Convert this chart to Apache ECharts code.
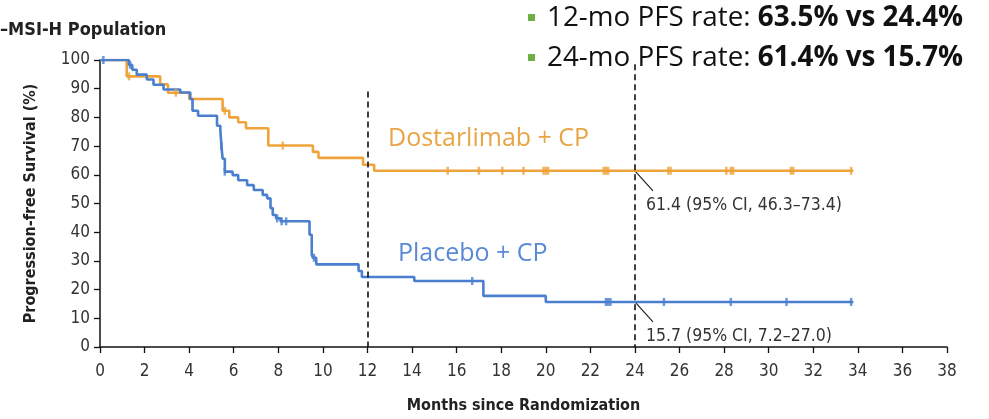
<!DOCTYPE html>
<html>
<head>
<meta charset="utf-8">
<script src="https://cdn.jsdelivr.net/npm/echarts@6/dist/echarts.min.js"></script>
<style>
  html, body { margin: 0; padding: 0; background: #ffffff; overflow: hidden; width: 989px; height: 419px; }
  #chart { width: 989px; height: 419px; overflow: hidden; }
</style>
</head>
<body>
<div id="chart"></div>
<script>
// Kaplan-Meier progression-free survival, dMMR/MSI-H population
const xTicks = [0, 2, 4, 6, 8, 10, 12, 14, 16, 18, 20, 22, 24, 26, 28, 30, 32, 34, 36, 38];
const yTicks = [0, 10, 20, 30, 40, 50, 60, 70, 80, 90, 100];

// Dostarlimab + CP: event times (months) and survival after each step (%)
const dostarTimes = [0, 1.2, 2.7, 3.05, 4.0, 5.5, 5.8, 6.2, 6.55, 7.55, 9.55, 9.8, 11.8, 12.3, 33.8];
const dostarSurv  = [100, 94.3, 91.5, 88.6, 86.4, 82.3, 80.0, 78.3, 76.2, 70.2, 68.0, 65.9, 63.5, 61.4, 61.4];
const dostarCensor = [1.3, 3.4, 5.6, 8.2, 15.6, 17.0, 18.05, 19.0, 19.9, 20.0, 20.1, 22.6, 22.7, 22.8, 25.5, 25.6, 28.1, 28.3, 28.4, 31.0, 31.1, 33.7];

// Placebo + CP
const placeboTimes = [0, 1.3, 1.45, 1.65, 2.1, 2.4, 2.85, 3.6, 4.05, 4.15, 4.4, 5.25, 5.4, 5.45, 5.5, 5.6, 5.95, 6.2, 6.6, 6.9, 7.3, 7.5, 7.65, 7.75, 7.9, 8.1, 9.4, 9.5, 9.55, 9.7, 11.6, 11.75, 14.1, 17.2, 20.0, 33.8];
const placeboSurv  = [100, 98.3, 96.6, 94.9, 93.2, 91.4, 89.7, 88.7, 86.4, 82.3, 80.6, 77.1, 75.4, 70.0, 65.6, 61.1, 59.9, 58.1, 56.4, 54.7, 53.0, 51.8, 48.4, 46.0, 44.8, 43.8, 39.1, 32.2, 31.1, 28.8, 26.5, 24.4, 23.0, 17.8, 15.7, 15.7];
const placeboCensor = [0.15, 1.35, 5.45, 5.6, 7.95, 8.15, 8.35, 9.6, 16.7, 22.7, 22.8, 22.9, 25.3, 28.3, 30.8, 33.7];

// Landmark estimates
const landmarks = [
  { month: 24, value: 61.4, text: '61.4 (95% CI, 46.3\u201373.4)' },
  { month: 24, value: 15.7, text: '15.7 (95% CI, 7.2\u201327.0)' }
];

const ORANGE = '#eea33b';
const BLUE = '#4a7ecf';
const NARROW = '"Liberation Sans Narrow", "DejaVu Sans Condensed", "Liberation Sans", sans-serif';
const SANS = '"Open Sans", sans-serif';

function pairs(ts, vs) { return ts.map((t, i) => [t, vs[i]]); }
function stepAt(ts, vs, t) {
  let v = vs[0];
  for (let i = 0; i < ts.length; i++) { if (ts[i] <= t) v = vs[i]; }
  return v;
}
function censorPoints(cs, ts, vs) { return cs.map(t => [t, stepAt(ts, vs, t)]); }

const chart = echarts.init(document.getElementById('chart'), null, { renderer: 'canvas', width: 989, height: 419 });

const option = {
  backgroundColor: '#ffffff',
  animation: false,
  grid: { left: 100, right: 42, top: 60, bottom: 66, containLabel: false },
  xAxis: {
    type: 'value', min: 0, max: 38, interval: 2,
    name: 'Months since Randomization', nameLocation: 'middle', nameGap: 51,
    nameTextStyle: { fontFamily: NARROW, fontSize: 16, fontWeight: 'bold', color: '#222' },
    axisLine: { show: true, onZero: false, lineStyle: { color: '#111', width: 1.5 } },
    axisTick: { show: true, inside: false, length: 6, lineStyle: { color: '#111', width: 1.3 } },
    axisLabel: { fontFamily: NARROW, fontSize: 17, color: '#333', margin: 16,
      formatter: v => xTicks.includes(v) ? String(v) : '' },
    splitLine: { show: false }
  },
  yAxis: {
    type: 'value', min: 0, max: 100, interval: 10,
    name: 'Progression-free Survival (%)', nameLocation: 'middle', nameGap: 61, nameRotate: 90,
    nameTextStyle: { fontFamily: NARROW, fontSize: 16, fontWeight: 'bold', color: '#222' },
    axisLine: { show: true, onZero: false, lineStyle: { color: '#111', width: 1.5 } },
    axisTick: { show: true, inside: false, length: 6, lineStyle: { color: '#111', width: 1.3 } },
    axisLabel: { fontFamily: NARROW, fontSize: 17, color: '#333', margin: 10,
      formatter: v => yTicks.includes(v) ? String(v) : '' },
    splitLine: { show: false }
  },
  series: [
    {
      name: 'Dostarlimab + CP', type: 'line', step: 'end', data: pairs(dostarTimes, dostarSurv),
      showSymbol: false, symbol: 'none', lineStyle: { color: ORANGE, width: 2.6 }, z: 3,
      markLine: {
        silent: true, symbol: 'none', label: { show: false },
        lineStyle: { color: '#111', type: [6, 4], width: 1.6 },
        data: [
          [{ coord: [12, 89] }, { coord: [12, 0] }],
          [{ coord: [24, 98.5] }, { coord: [24, 0] }]
        ]
      }
    },
    {
      name: 'Placebo + CP', type: 'line', step: 'end', data: pairs(placeboTimes, placeboSurv),
      showSymbol: false, symbol: 'none', lineStyle: { color: BLUE, width: 2.6 }, z: 4
    },
    {
      name: 'Dostarlimab censored', type: 'scatter', data: censorPoints(dostarCensor, dostarTimes, dostarSurv),
      symbol: 'rect', symbolSize: [2.5, 8], itemStyle: { color: ORANGE }, z: 5
    },
    {
      name: 'Placebo censored', type: 'scatter', data: censorPoints(placeboCensor, placeboTimes, placeboSurv),
      symbol: 'rect', symbolSize: [2.5, 8], itemStyle: { color: BLUE }, z: 6
    }
  ]
};
chart.setOption(option);

// Text overlays: title, summary bullets, arm names, landmark callouts
const g = [];
g.push({ type: 'text', left: 0, top: 21, style: { text: '\u2013MSI-H Population', fontFamily: NARROW, fontSize: 18, fontWeight: 'bold', fill: '#222' } });

const bullets = [
  { lead: '12-mo PFS rate: ', bold: '63.5% vs 24.4%', y: 18 },
  { lead: '24-mo PFS rate: ', bold: '61.4% vs 15.7%', y: 58 }
];
bullets.forEach(b => {
  g.push({ type: 'rect', shape: { x: 528, y: b.y - 4, width: 7, height: 7 }, style: { fill: '#6fb043' } });
  g.push({ type: 'text', x: 547, y: b.y, style: {
    text: '{a|' + b.lead + '}{b|' + b.bold + '}', verticalAlign: 'middle',
    rich: {
      a: { fontFamily: SANS, fontSize: 27.8, fill: '#111', fontWeight: 'normal' },
      b: { fontFamily: SANS, fontSize: 27.8, fill: '#111', fontWeight: 'bold' }
    }
  } });
});

g.push({ type: 'text', x: 388, y: 139, style: { text: 'Dostarlimab + CP', fontFamily: SANS, fontSize: 25, fill: '#e9a446', verticalAlign: 'middle' } });
g.push({ type: 'text', x: 398, y: 254, style: { text: 'Placebo + CP', fontFamily: SANS, fontSize: 25, fill: '#5a8ad6', verticalAlign: 'middle' } });

landmarks.forEach(m => {
  const p = chart.convertToPixel({ gridIndex: 0 }, [m.month, m.value]);
  g.push({ type: 'line', shape: { x1: p[0], y1: p[1], x2: p[0] + 18, y2: p[1] + 20 }, style: { stroke: '#222', lineWidth: 1.2 } });
  g.push({ type: 'text', x: p[0] + 11, y: p[1] + 35, style: { text: m.text, fontFamily: NARROW, fontSize: 17.5, fill: '#333', verticalAlign: 'middle' } });
});

chart.setOption({ graphic: g });
</script>
</body>
</html>
